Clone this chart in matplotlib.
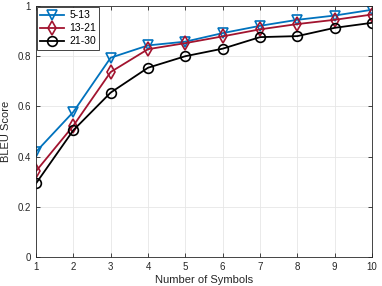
import matplotlib
matplotlib.use("Agg")
import matplotlib.pyplot as plt

# data
symbols = [1, 2, 3, 4, 5, 6, 7, 8, 9, 10]
bleu_5_13 = [0.419, 0.578, 0.794, 0.843, 0.858, 0.892, 0.921, 0.945, 0.962, 0.985]
bleu_13_21 = [0.342, 0.523, 0.737, 0.828, 0.852, 0.879, 0.907, 0.928, 0.945, 0.966]
bleu_21_30 = [0.293, 0.505, 0.655, 0.754, 0.800, 0.830, 0.876, 0.880, 0.913, 0.933]
labels = ["5-13", "13-21", "21-30"]

plt.rcParams["font.family"] = ["Liberation Sans", "DejaVu Sans"]

fig = plt.figure(figsize=(3.82, 2.86), dpi=100)
ax = fig.add_axes([36 / 382, 29 / 286, 336 / 382, 251 / 286])

kw = dict(linewidth=1.3, markersize=7, markerfacecolor="none", markeredgewidth=1.2)
ax.plot(symbols, bleu_5_13, marker="v", color="#0072BD", label=labels[0], **kw)
ax.plot(symbols, bleu_13_21, marker="d", color="#A2142F", label=labels[1], **kw)
ax.plot(symbols, bleu_21_30, marker="o", color="black", label=labels[2], **kw)

ax.set_xlim(1, 10)
ax.set_ylim(0, 1)
ax.set_xticks(symbols)
ax.set_yticks([0, 0.2, 0.4, 0.6, 0.8, 1])
ax.set_yticklabels(["0", "0.2", "0.4", "0.6", "0.8", "1"])
ax.grid(True, color="#e6e6e6", linewidth=0.6)
ax.set_axisbelow(True)
ax.tick_params(labelsize=7, colors="#262626", direction="in", length=3, width=0.6, top=True, right=True)
for s in ax.spines.values():
    s.set_color("#262626")
    s.set_linewidth(0.6)
ax.set_xlabel("Number of Symbols", fontsize=8, color="#262626", labelpad=2)
ax.set_ylabel("BLEU Score", fontsize=8, color="#262626", labelpad=5)

leg = ax.legend(loc="upper left", fontsize=7.5, fancybox=False, framealpha=1,
                edgecolor="#262626", handlelength=2.3, handletextpad=0.5,
                borderaxespad=0.1, labelspacing=0.3, borderpad=0.3)
leg.get_frame().set_linewidth(0.6)

fig.savefig("out.png", dpi=100)
